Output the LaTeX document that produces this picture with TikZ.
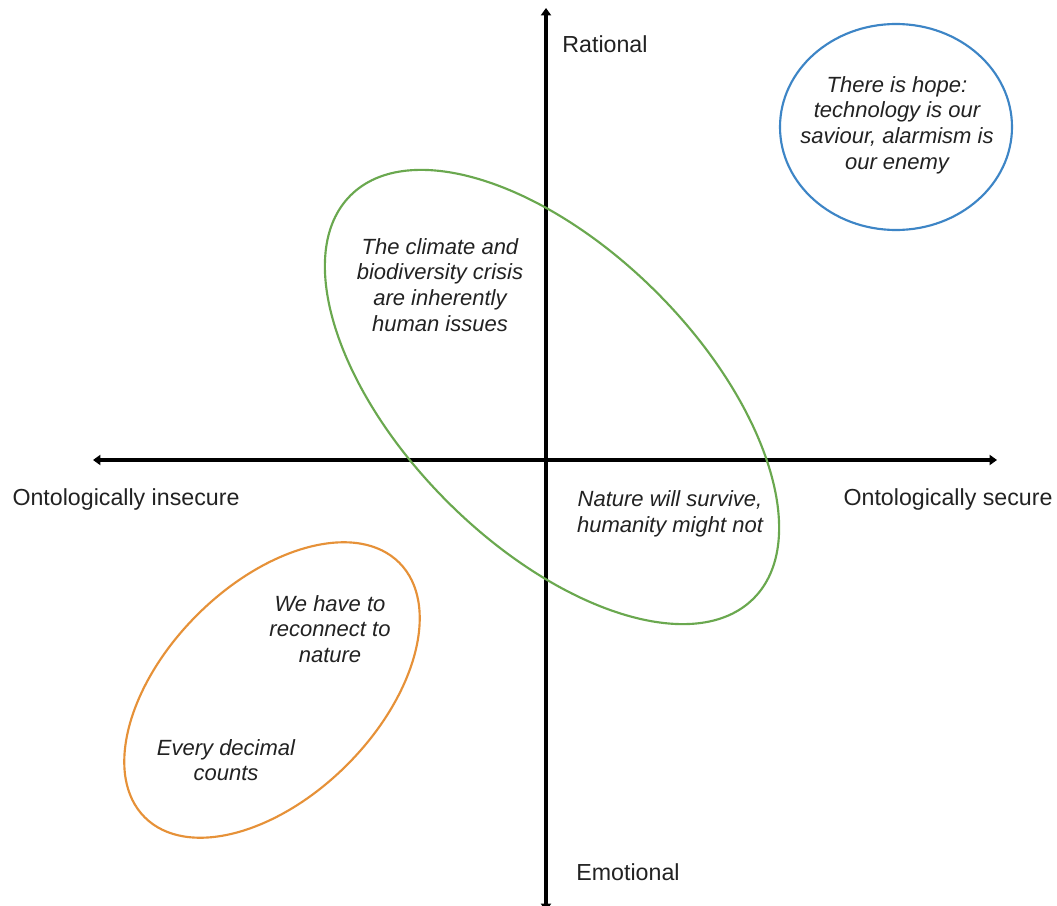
\documentclass[tikz,border=0pt]{standalone}
\usepackage{fontspec}
\setmainfont{Liberation Sans}
\usetikzlibrary{arrows.meta}
\definecolor{ringblue}{HTML}{3D85C6}
\definecolor{ringgreen}{HTML}{6AA84F}
\definecolor{ringorange}{HTML}{E69138}
\definecolor{inkgray}{HTML}{222222}

\begin{document}
\begin{tikzpicture}[x=0.75pt,y=-0.75pt,
  axistip/.tip={Triangle[length=5.5pt,width=7.5pt]},
  axisline/.style={line width=3pt,black},
  axislabel/.style={font=\fontsize{17.4}{21}\selectfont, text=inkgray, inner sep=0pt, anchor=base},
  ring/.style={line width=1.6pt},
  note/.style={font=\fontsize{16.5}{19.3}\selectfont\itshape, text=inkgray, align=center, inner sep=0pt}]
\clip (0,0) rectangle (1057,906);
\fill[white] (0,0) rectangle (1057,906);

% axis end points
\coordinate (top) at (546,8);
\coordinate (bottom) at (546,911);
\coordinate (left) at (93,460);
\coordinate (right) at (997,460);

% the two axes
\draw[axisline,axistip-axistip] (left) -- (right);
\draw[axisline,axistip-axistip] (bottom) -- (top);

% axis labels
\node[axislabel] (rational) at (605,53) {Rational};
\node[axislabel] (emotional) at (628,880) {Emotional};
\node[axislabel] (insecure) at (126,505) {Ontologically insecure};
\node[axislabel] (secure) at (948,505) {Ontologically secure};

% rings
\coordinate (bluec) at (896,127);
\coordinate (greenc) at (552,397);
\coordinate (orangec) at (272,690);
\draw[ring,ringblue] (bluec) ellipse [x radius=116, y radius=103];
\draw[ring,ringgreen,rotate around={-45:(greenc)}] (greenc) ellipse [x radius=285, y radius=148];
\draw[ring,ringorange,rotate around={45:(orangec)}] (orangec) ellipse [x radius=180, y radius=106];

% statements
\node[note] (hope) at (897,125) {There is hope:\\technology is our\\saviour, alarmism is\\our enemy};
\node[note] (human) at (440,285) {The climate and\\biodiversity crisis\\are inherently\\human issues};
\node[note] (survive) at (670,514) {Nature will survive,\\humanity might not};
\node[note] (reconnect) at (330,629) {We have to\\reconnect to\\nature};
\node[note] (decimal) at (226,760) {Every decimal\\counts};
\end{tikzpicture}
\end{document}
